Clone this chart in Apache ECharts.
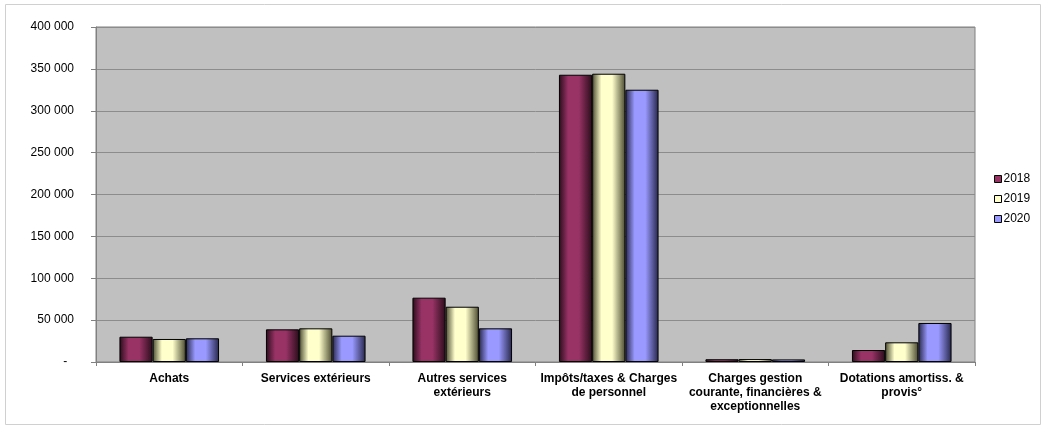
<!DOCTYPE html>
<html><head><meta charset="utf-8">
<script src="https://cdn.jsdelivr.net/npm/echarts@6/dist/echarts.min.js"></script>
<style>html,body{margin:0;padding:0;background:#fff}#c{width:1047px;height:430px}</style>
</head><body><div id="c"></div>
<script>
const categories = ["Achats", "Services extérieurs", "Autres services\nextérieurs", "Impôts/taxes & Charges\nde personnel", "Charges gestion\ncourante, financières &\nexceptionnelles", "Dotations amortiss. &\nprovis°"];
const seriesNames = ["2018", "2019", "2020"];
const values2018 = [30200, 39000, 76800, 343000, 3300, 14300];
const values2019 = [27500, 40200, 66000, 344200, 3500, 23500];
const values2020 = [28300, 31400, 40200, 325100, 3100, 46600];
const yTicks = [0, 50000, 100000, 150000, 200000, 250000, 300000, 350000, 400000];
const baseColors = ["#993366", "#FFFFCC", "#9999FF"];
const darkColors = ["#2a0c1a", "#4a4a30", "#26264a"];

function grad(base, dark) {
  return new echarts.graphic.LinearGradient(0, 0, 1, 0, [
    {offset: 0, color: dark},
    {offset: 0.28, color: base},
    {offset: 0.6, color: base},
    {offset: 1, color: dark}
  ]);
}
function fmt(v) {
  if (v === 0) return '-  ';
  return String(v).replace(/\B(?=(\d{3})+(?!\d))/g, ' ');
}
const allVals = [values2018, values2019, values2020];
const chart = echarts.init(document.getElementById('c'));
chart.setOption({
  animation: false,
  textStyle: {fontFamily: 'Liberation Sans, Arial, sans-serif'},
  graphic: [{type: 'rect', shape: {x: 5.5, y: 4.5, width: 1035, height: 420}, style: {fill: 'none', stroke: '#d0d0d0', lineWidth: 1}, silent: true}],
  grid: {left: 96, top: 27, right: 72, bottom: 68, show: true, backgroundColor: '#C0C0C0', borderColor: '#808080', borderWidth: 1},
  legend: {
    orient: 'vertical', left: 989, top: 168, itemWidth: 7, itemHeight: 7, itemGap: 8,
    textStyle: {fontSize: 12, color: '#000', padding: [0, 0, 0, -3]},
    data: seriesNames.map((n, i) => ({name: n, icon: 'rect', itemStyle: {color: baseColors[i], borderColor: '#000', borderWidth: 1}}))
  },
  xAxis: {
    type: 'category', data: categories,
    axisLine: {lineStyle: {color: '#808080'}},
    axisTick: {show: true, length: 4, lineStyle: {color: '#808080'}},
    axisLabel: {fontSize: 12, fontWeight: 'bold', color: '#000', margin: 10, lineHeight: 14, interval: 0}
  },
  yAxis: {
    type: 'value', min: 0, max: 400000, interval: 50000,
    axisLine: {show: true, lineStyle: {color: '#808080'}},
    axisTick: {show: true, length: 5, lineStyle: {color: '#808080'}},
    splitLine: {lineStyle: {color: '#8c8c8c', width: 1}},
    axisLabel: {fontSize: 12, color: '#000', margin: 22, formatter: fmt}
  },
  series: seriesNames.map((n, i) => ({
    name: n, type: 'bar', data: allVals[i],
    barGap: '0%', barCategoryGap: '32%',
    itemStyle: {color: grad(baseColors[i], darkColors[i]), borderColor: '#000', borderWidth: 1}
  }))
});
</script></body></html>
